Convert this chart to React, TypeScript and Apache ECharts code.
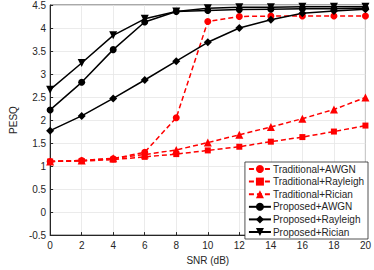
import React, { useEffect, useRef } from "react";
import * as echarts from "echarts";

const snr = [0, 2, 4, 6, 8, 10, 12, 14, 16, 18, 20];
const tradAwgn = [1.1, 1.12, 1.16, 1.3, 2.05, 4.14, 4.25, 4.26, 4.26, 4.26, 4.26];
const tradRayleigh = [1.1, 1.11, 1.14, 1.2, 1.26, 1.34, 1.42, 1.53, 1.63, 1.75, 1.88];
const tradRician = [1.1, 1.12, 1.17, 1.25, 1.35, 1.51, 1.68, 1.85, 2.03, 2.23, 2.49];
const propAwgn = [2.22, 2.82, 3.53, 4.13, 4.36, 4.38, 4.4, 4.41, 4.42, 4.42, 4.43];
const propRayleigh = [1.77, 2.09, 2.47, 2.87, 3.28, 3.69, 4.0, 4.18, 4.32, 4.37, 4.41];
const propRician = [2.66, 3.24, 3.84, 4.2, 4.36, 4.43, 4.45, 4.45, 4.46, 4.46, 4.46];

const names = [
  "Traditional+AWGN",
  "Traditional+Rayleigh",
  "Traditional+Rician",
  "Proposed+AWGN",
  "Proposed+Rayleigh",
  "Proposed+Rician",
];

export default function App() {
  const ref = useRef<HTMLDivElement>(null);
  useEffect(() => {
    const chart = echarts.init(ref.current!, null, { renderer: "svg" });
    const mk = (name: string, vals: number[], color: string, dashed: boolean, symbol: string, size: number, rotate = 0) => ({
      name,
      type: "line",
      data: snr.map((x, i) => [x, vals[i]]),
      symbol,
      symbolSize: size,
      symbolRotate: rotate,
      itemStyle: { color },
      lineStyle: { color, width: 1.5, type: dashed ? [5, 3] : "solid" },
    });
    chart.setOption({
      animation: false,
      textStyle: { fontFamily: "Liberation Sans, Arial, sans-serif" },
      grid: { left: 32, right: 5, top: 4, bottom: 30, show: true, borderColor: "#262626", borderWidth: 0.8 },
      xAxis: {
        type: "value",
        min: 0,
        max: 20,
        interval: 2,
        name: "SNR (dB)",
        nameLocation: "middle",
        nameGap: 18,
        nameTextStyle: { fontSize: 10, color: "#262626" },
        axisLine: { onZero: false, lineStyle: { color: "#262626" } },
        axisTick: { inside: true, length: 3, lineStyle: { color: "#262626" } },
        axisLabel: { fontSize: 10, color: "#262626", margin: 5 },
        splitLine: { show: true, lineStyle: { color: "#e6e6e6", width: 0.8 } },
      },
      yAxis: {
        type: "value",
        min: -0.5,
        max: 4.5,
        interval: 0.5,
        name: "PESQ",
        nameLocation: "middle",
        nameGap: 22,
        nameTextStyle: { fontSize: 10, color: "#262626" },
        axisLine: { show: true, onZero: false, lineStyle: { color: "#262626" } },
        axisTick: { show: true, inside: true, length: 3, lineStyle: { color: "#262626" } },
        axisLabel: { fontSize: 10, color: "#262626", margin: 4 },
        splitLine: { show: true, lineStyle: { color: "#e6e6e6", width: 0.8 } },
      },
      legend: {
        orient: "vertical",
        right: 6,
        bottom: 31,
        data: names,
        backgroundColor: "#fff",
        borderColor: "#262626",
        borderWidth: 0.8,
        borderRadius: 0,
        padding: [2, 4, 2, 3],
        itemGap: 2.6,
        itemWidth: 22,
        itemHeight: 10,
        textStyle: { fontSize: 10, color: "#262626", padding: [0, 0, 0, -3] },
      },
      series: [
        mk(names[0], tradAwgn, "#ff0000", true, "circle", 7),
        mk(names[1], tradRayleigh, "#ff0000", true, "rect", 6),
        mk(names[2], tradRician, "#ff0000", true, "triangle", 8),
        mk(names[3], propAwgn, "#000000", false, "circle", 7),
        mk(names[4], propRayleigh, "#000000", false, "diamond", 8),
        mk(names[5], propRician, "#000000", false, "triangle", 8, 180),
      ],
    });
    return () => chart.dispose();
  }, []);
  return <div ref={ref} style={{ width: 374, height: 270, position: "absolute", left: 0, top: 0 }} />;
}
